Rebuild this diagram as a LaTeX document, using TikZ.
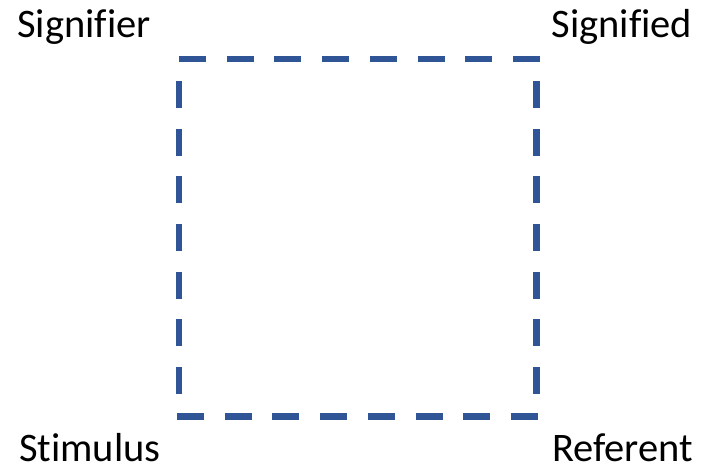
\documentclass[tikz,border=0pt]{standalone}
\usepackage{fontspec}
\setmainfont[Ligatures=NoCommon]{Carlito}
\definecolor{edgeblue}{HTML}{2F5597}
\begin{document}
\begin{tikzpicture}[x=1pt,y=1pt,
  edge/.style={draw=edgeblue,line width=6.3pt,line cap=butt,dash pattern=on 27pt off 20.7pt},
  lbl/.style={inner sep=0pt,font=\fontsize{40.5}{48}\selectfont}]
\useasboundingbox (0,0) rectangle (701,465);
\node[lbl,anchor=base west] (signifier) at (17,427) {Signifier};
\node[lbl,anchor=base east] (signified) at (692.5,427) {Signified};
\node[lbl,anchor=base west] (stimulus) at (19,3.5) {Stimulus};
\node[lbl,anchor=base east] (referent) at (693,3.5) {Referent};
\coordinate (tl) at (179,406);
\coordinate (tr) at (540,406);
\coordinate (bl) at (177,48.5);
\coordinate (br) at (538,48.5);
\draw[edge] (tl) -- (tr);
\draw[edge] (bl) -- (br);
\draw[edge] (179,384) -- (179,70.8);
\draw[edge] (536.5,384) -- (536.5,70.8);
\end{tikzpicture}
\end{document}
